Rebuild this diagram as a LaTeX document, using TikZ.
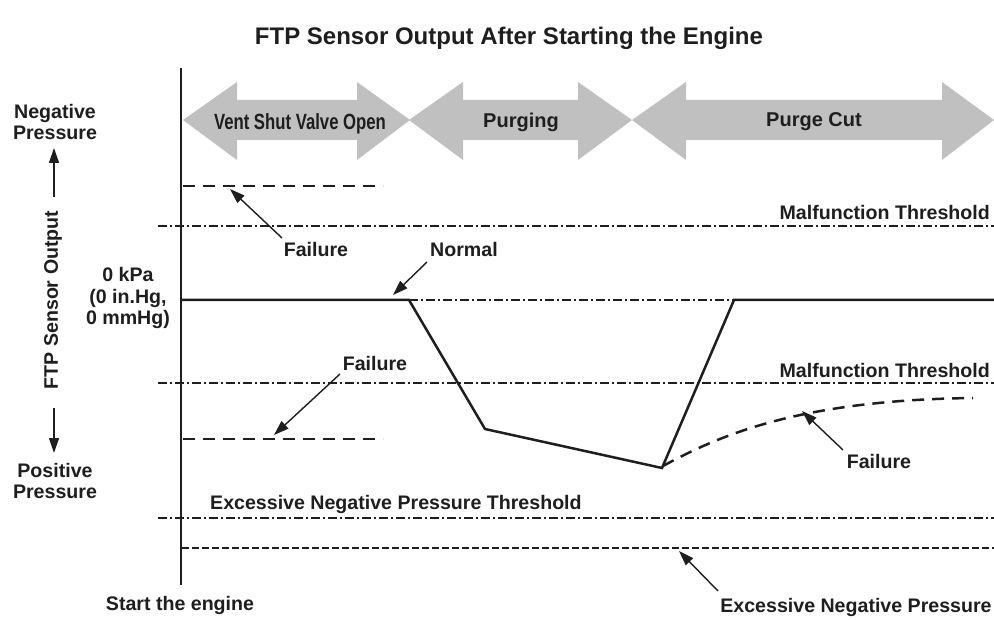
\documentclass[tikz,border=0pt]{standalone}
\usepackage{fontspec}
\setmainfont{Liberation Sans}
\newfontfamily\narrowfont[FakeStretch=0.76]{Liberation Sans}
\usetikzlibrary{arrows.meta}

\definecolor{bandgray}{RGB}{192,192,192}
\definecolor{ink}{RGB}{30,30,30}

\begin{document}
\begin{tikzpicture}[x=1pt,y=-1pt,
  lbl/.style={font=\fontsize{19.6}{21.5}\selectfont\bfseries, text=ink, inner sep=0pt},
  ann/.style={draw=ink, line width=1.4pt, -{Triangle[length=15pt,width=10pt]}},
  thresh/.style={draw=ink, line width=1.3pt, dash pattern=on 9pt off 3pt on 2pt off 3pt},
  excess/.style={draw=ink, line width=1.3pt, dash pattern=on 7pt off 3pt},
  signal/.style={draw=ink, line width=2.5pt, line join=miter},
  fail/.style={draw=ink, line width=2.5pt, dash pattern=on 12pt off 8pt},
  band/.style={fill=bandgray, draw=none},
]
\useasboundingbox (0,0) rectangle (994,620);
\fill[white] (0,0) rectangle (994,620);

% title
\node[lbl, font=\fontsize{24}{27}\selectfont\bfseries] (title) at (509,38)
  {FTP Sensor Output After Starting the Engine};

% phase bands (double-headed block arrows)
\fill[band] (183,120) -- (237,82) -- (237,100) -- (357,100) -- (357,82) -- (410,120)
  -- (357,160) -- (357,140) -- (237,140) -- (237,160) -- cycle;
\fill[band] (409,120) -- (463,82) -- (463,100) -- (578,100) -- (578,82) -- (632,120)
  -- (578,160) -- (578,140) -- (463,140) -- (463,160) -- cycle;
\fill[band] (632,120) -- (686,82) -- (686,100) -- (942,100) -- (942,82) -- (994,120)
  -- (942,160) -- (942,140) -- (686,140) -- (686,160) -- cycle;
\node[inner sep=0pt, text=ink, font=\narrowfont\bfseries\fontsize{22}{24}\selectfont] (vent) at (300,124) {Vent Shut Valve Open};
\node[lbl, font=\fontsize{20}{22}\selectfont\bfseries] (purge) at (521,122) {Purging};
\node[lbl, font=\fontsize{20}{22}\selectfont\bfseries] (cut) at (814,122) {Purge Cut};

% time axis
\draw[ink, line width=2pt] (181,68) -- (181,585);

% thresholds
\draw[thresh] (158,226) -- (994,226);
\draw[thresh] (158,383) -- (994,383);
\draw[thresh] (158,518) -- (994,518);
\draw[thresh] (409,300) -- (734,300);
\draw[excess] (182,548) -- (994,548);

\node[lbl, anchor=base east] (mt1) at (990,220) {Malfunction Threshold};
\node[lbl, anchor=base east] (mt2) at (990,378) {Malfunction Threshold};
\node[lbl, anchor=base west] (ent) at (210,509) {Excessive Negative Pressure Threshold};

% sensor output traces
\draw[signal] (181,300) -- (409,300) -- (485,429) -- (662,468) -- (734,300) -- (994,300);
\draw[fail] (183,186) -- (383,186);
\draw[fail] (183,439) -- (383,439);
\draw[fail] (663,466) .. controls (720,435) and (800,400) .. (973,398);

% annotations
\node[lbl] (f1) at (316,249) {Failure};
\coordinate (f1t) at (230,189);
\draw[ann] (282,238) -- (f1t);

\node[lbl] (nrm) at (464,249) {Normal};
\coordinate (nrmt) at (393,295);
\draw[ann] (427,262) -- (nrmt);

\node[lbl] (f2) at (375,363) {Failure};
\coordinate (f2t) at (274,435);
\draw[ann] (340,374) -- (f2t);

\node[lbl] (f3) at (879,461) {Failure};
\coordinate (f3t) at (802,411);
\draw[ann] (843,450) -- (f3t);

\node[lbl] (enp) at (856,607) {Excessive Negative Pressure};
\coordinate (enpt) at (679,551);
\draw[ann] (718,591) -- (enpt);

\node[lbl] (start) at (180,605) {Start the engine};

% vertical axis labels
\node[lbl, align=center] (neg) at (55,122) {Negative\\Pressure};
\node[lbl, rotate=90] (ftp) at (53,300) {FTP Sensor Output};
\node[lbl, align=center] (pos) at (55,481) {Positive\\Pressure};
\coordinate (upt) at (54,148);
\coordinate (dnt) at (54,453);
\draw[ann] (54,197) -- (upt);
\draw[ann] (54,408) -- (dnt);
\node[lbl, align=center] (zero) at (128,298) {0 kPa\\(0 in.Hg,\\0 mmHg)};
\end{tikzpicture}
\end{document}
